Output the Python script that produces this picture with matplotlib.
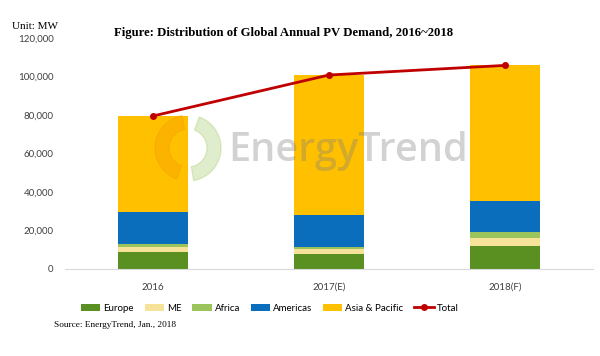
import numpy as np
import matplotlib.pyplot as plt
from matplotlib.patches import Wedge

years = ["2016", "2017(E)", "2018(F)"]
europe = [9000, 7800, 12100]
me = [2300, 2400, 3800]
africa = [1700, 1400, 3500]
americas = [16800, 16400, 16100]
asia_pacific = [49700, 72800, 70300]

series = [
    ("Europe", europe, "#5a8f22"),
    ("ME", me, "#f7e29a"),
    ("Africa", africa, "#9bc45c"),
    ("Americas", americas, "#0a6ebd"),
    ("Asia & Pacific", asia_pacific, "#ffc000"),
]
total = np.sum([s[1] for s in series], axis=0)

plt.rcParams['font.family'] = ['Lato', 'DejaVu Sans']

fig = plt.figure(figsize=(6, 3.56), dpi=100)
ax = fig.add_axes([0.108, 0.2444, 0.88, 0.6486])

x = np.arange(len(years))
bottom = np.zeros(len(years))
handles = []
for name, vals, col in series:
    b = ax.bar(x, vals, 0.4, bottom=bottom, color=col, label=name, zorder=2)
    handles.append(b)
    bottom += np.asarray(vals)

ln, = ax.plot(x, total, color="#c00000", lw=2, marker="o", ms=4, label="Total", zorder=3)
handles.append(ln)

ax.set_xlim(-0.5, 2.5)
ax.set_ylim(0, 120000)
ax.set_yticks(np.arange(0, 120001, 20000))
ax.set_yticklabels([f"{v:,}" for v in range(0, 120001, 20000)])
ax.set_xticks(x)
ax.set_xticklabels(years)
ax.tick_params(length=0, labelsize=7, colors="#404040", pad=8)
ax.tick_params(axis="x", pad=10)
for s in ["top", "right", "left"]:
    ax.spines[s].set_visible(False)
ax.spines["bottom"].set_color("#d9d9d9")

ax.legend(handles, [h.get_label() for h in handles], loc="center",
          bbox_to_anchor=(0.388, -0.169), ncol=6, frameon=False,
          fontsize=7, handlelength=2.0, handleheight=0.7, columnspacing=1.1,
          handletextpad=0.3)

fig.text(0.472, 0.907, "Figure: Distribution of Global Annual PV Demand, 2016~2018",
         ha="center", va="center", fontsize=9.2, fontweight="bold",
         family="Liberation Serif")
fig.text(0.02, 0.925, "Unit: MW", ha="left", va="center", fontsize=8,
         family="Liberation Serif")
fig.text(0.09, 0.087, "Source: EnergyTrend, Jan., 2018", ha="left", va="center",
         fontsize=6.7, family="Liberation Serif")

# watermark
fig.text(0.38, 0.575, "EnergyTrend", ha="left", va="center", fontsize=28.5,
         fontweight="semibold", color="#808080", alpha=0.35, family="Open Sans")
fig.patches.append(Wedge((188, 356 - 148), 33, 100, 250, width=14, color="#f39800",
                         alpha=0.3, transform=None, figure=fig))
fig.patches.append(Wedge((188, 356 - 148), 33, 280, 70, width=14, color="#9bc45c",
                         alpha=0.3, transform=None, figure=fig))

fig.savefig("out.png", dpi=100)
